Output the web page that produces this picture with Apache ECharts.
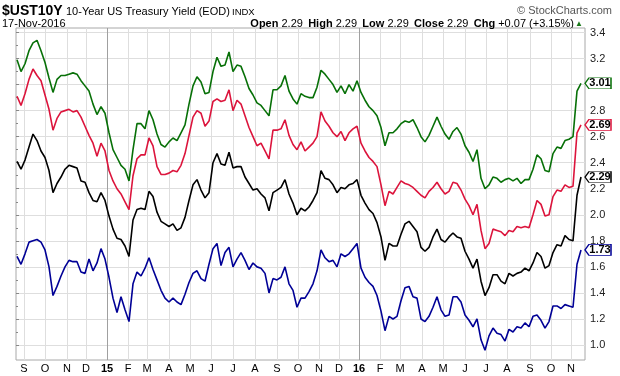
<!DOCTYPE html>
<html lang="en">
<head>
<meta charset="UTF-8">
<title>$UST10Y</title>
<script src="https://cdn.jsdelivr.net/npm/echarts@6/dist/echarts.min.js"></script>
<style>
    html, body { margin: 0; padding: 0; background: #fff; }
    #myChart { width: 620px; height: 376px; }
</style>
</head>
<body>
<div id="myChart"></div>
<script>
    // x = trading days from the left edge of the plot, one sample every 4 days
    var firstDay = 1, dayStep = 4;

    // month gridlines (trading day) and their labels
    var monthDays = [8, 29, 51, 70, 91, 112, 131, 153, 174, 195, 217, 239, 261, 282, 303, 323, 343, 364, 384, 406, 427, 449, 470, 491, 514, 535, 555];
    var monthLabels = ['S', 'O', 'N', 'D', '15', 'F', 'M', 'A', 'M', 'J', 'J', 'A', 'S', 'O', 'N', 'D', '16', 'F', 'M', 'A', 'M', 'J', 'J', 'A', 'S', 'O', 'N'];

    var green = [
        3.19, 3.10, 3.16, 3.26, 3.32, 3.34, 3.26, 3.17, 3.05, 2.94,
        3.04, 3.07, 3.07, 3.08, 3.09, 3.08, 3.03, 2.99, 2.95, 2.85,
        2.77, 2.83, 2.78, 2.63, 2.50, 2.44, 2.38, 2.35, 2.26, 2.50,
        2.70, 2.70, 2.66, 2.80, 2.73, 2.62, 2.54, 2.52, 2.56, 2.59,
        2.57, 2.63, 2.69, 2.85, 2.99, 3.06, 3.02, 2.93, 2.94, 3.10,
        3.21, 3.14, 3.15, 3.25, 3.10, 3.15, 3.14, 3.06, 2.97, 2.92,
        2.86, 2.84, 2.80, 2.76, 2.96, 2.96, 2.99, 3.07, 2.95, 2.89,
        2.85, 2.93, 2.91, 2.90, 2.90, 2.98, 3.11, 3.08, 3.04, 3.00,
        2.94, 2.99, 2.93, 3.00, 2.95, 3.03, 2.94, 2.88, 2.83, 2.80,
        2.76, 2.67, 2.53, 2.63, 2.63, 2.66, 2.70, 2.72, 2.71, 2.73,
        2.67, 2.60, 2.56, 2.61, 2.68, 2.75, 2.68, 2.62, 2.58, 2.64,
        2.67, 2.62, 2.53, 2.48, 2.41, 2.50, 2.28, 2.20, 2.23, 2.29,
        2.28, 2.25, 2.27, 2.28, 2.26, 2.28, 2.24, 2.27, 2.27, 2.35,
        2.46, 2.43, 2.34, 2.33, 2.47, 2.52, 2.51, 2.57, 2.58, 2.60,
        2.95, 3.01
    ];
    var red = [
        2.91, 2.84, 2.93, 3.04, 3.12, 3.07, 3.03, 2.92, 2.81, 2.65,
        2.74, 2.79, 2.80, 2.81, 2.79, 2.80, 2.75, 2.68, 2.61, 2.55,
        2.45, 2.55, 2.49, 2.34, 2.26, 2.20, 2.16, 2.10, 2.04, 2.30,
        2.43, 2.46, 2.46, 2.59, 2.53, 2.37, 2.31, 2.31, 2.32, 2.34,
        2.33, 2.38, 2.47, 2.61, 2.75, 2.80, 2.78, 2.68, 2.72, 2.87,
        2.89, 2.87, 2.88, 2.96, 2.80, 2.88, 2.85, 2.76, 2.67, 2.60,
        2.53, 2.55, 2.49, 2.43, 2.65, 2.65, 2.66, 2.73, 2.61, 2.54,
        2.50, 2.56, 2.49, 2.52, 2.55, 2.60, 2.79, 2.72, 2.68, 2.63,
        2.60, 2.64, 2.57, 2.63, 2.66, 2.68, 2.55, 2.49, 2.44, 2.41,
        2.37, 2.23, 2.07, 2.18, 2.16, 2.21, 2.26, 2.24, 2.23, 2.21,
        2.18, 2.15, 2.13, 2.18, 2.21, 2.25, 2.20, 2.16, 2.18, 2.25,
        2.24, 2.19, 2.12, 2.07, 2.00, 2.08, 1.88, 1.74, 1.78, 1.89,
        1.88, 1.87, 1.84, 1.88, 1.87, 1.91, 1.90, 1.91, 1.90, 2.00,
        2.11, 2.08, 1.99, 2.00, 2.14, 2.19, 2.18, 2.23, 2.21, 2.22,
        2.63, 2.69
    ];
    var black = [
        2.41, 2.35, 2.42, 2.52, 2.62, 2.57, 2.49, 2.44, 2.34, 2.17,
        2.24, 2.29, 2.35, 2.38, 2.37, 2.36, 2.26, 2.25, 2.17, 2.11,
        2.10, 2.17, 2.11, 1.99, 1.89, 1.82, 1.81, 1.76, 1.68, 1.96,
        2.04, 2.05, 2.04, 2.18, 2.14, 2.02, 1.95, 1.93, 1.91, 1.93,
        1.88, 1.90, 1.98, 2.11, 2.23, 2.27, 2.19, 2.13, 2.17, 2.40,
        2.47, 2.39, 2.38, 2.48, 2.36, 2.37, 2.37, 2.29, 2.24, 2.19,
        2.20, 2.16, 2.13, 2.03, 2.17, 2.19, 2.21, 2.27, 2.16, 2.09,
        2.00, 2.05, 2.03, 2.06, 2.11, 2.17, 2.34, 2.28, 2.27, 2.23,
        2.17, 2.21, 2.20, 2.23, 2.24, 2.27, 2.15, 2.09, 2.04, 2.01,
        1.94, 1.83, 1.65, 1.78, 1.76, 1.76, 1.85, 1.93, 1.95, 1.91,
        1.87, 1.75, 1.72, 1.75, 1.83, 1.89, 1.81, 1.79, 1.83, 1.86,
        1.83, 1.82, 1.72, 1.66, 1.59, 1.66, 1.49, 1.38, 1.44, 1.54,
        1.54, 1.49, 1.47, 1.55, 1.53, 1.55, 1.56, 1.59, 1.57, 1.63,
        1.71, 1.68, 1.59, 1.61, 1.71, 1.77, 1.76, 1.84, 1.81, 1.80,
        2.15, 2.29
    ];
    var blue = [
        1.68, 1.62, 1.70, 1.79, 1.80, 1.81, 1.79, 1.73, 1.60, 1.38,
        1.45, 1.53, 1.60, 1.65, 1.64, 1.64, 1.56, 1.55, 1.66, 1.57,
        1.63, 1.74, 1.66, 1.52, 1.36, 1.25, 1.37, 1.27, 1.18, 1.47,
        1.56, 1.53, 1.59, 1.67, 1.58, 1.50, 1.42, 1.36, 1.33, 1.36,
        1.33, 1.31, 1.39, 1.48, 1.55, 1.57, 1.51, 1.49, 1.62, 1.74,
        1.78, 1.61, 1.71, 1.75, 1.60, 1.66, 1.71, 1.65, 1.58, 1.63,
        1.60, 1.59, 1.55, 1.40, 1.51, 1.50, 1.52, 1.60, 1.47, 1.42,
        1.29, 1.36, 1.36, 1.41, 1.47, 1.57, 1.73, 1.67, 1.64, 1.65,
        1.60, 1.70, 1.68, 1.70, 1.74, 1.78, 1.59, 1.52, 1.48, 1.45,
        1.38, 1.26, 1.11, 1.22, 1.20, 1.22, 1.34, 1.44, 1.45, 1.37,
        1.36, 1.20, 1.18, 1.22, 1.29, 1.37, 1.27, 1.22, 1.23, 1.37,
        1.37, 1.33, 1.23, 1.19, 1.14, 1.20, 1.04, 0.96, 1.07, 1.13,
        1.09, 1.08, 1.03, 1.12, 1.10, 1.14, 1.13, 1.17, 1.14, 1.22,
        1.23, 1.19, 1.13, 1.18, 1.30, 1.30, 1.28, 1.31, 1.30, 1.29,
        1.62, 1.73
    ];

    var font = '"Liberation Sans", Arial, sans-serif';

    // plot frame and where 3.4 / 1.0 fall inside it
    var frame = {left: 16, top: 28, width: 569, height: 332};
    var y34 = 32.5, y10 = 345;
    var pxPerUnit = (y10 - y34) / 2.4;
    var yMax = 3.4 + (y34 - frame.top) / pxPerUnit;
    var yMin = 1.0 - (frame.top + frame.height - y10) / pxPerUnit;

    function toPairs(arr) {
        return arr.map(function (v, i) { return [firstDay + i * dayStep, v]; });
    }

    var splitColors = monthLabels.map(function (l) { return /^\d/.test(l) ? '#a0a0a0' : '#dedede'; });

    function lineSeries(name, arr, color) {
        var last = arr.length - 1;
        return {
            name: name,
            type: 'line',
            xAxisIndex: 0,
            yAxisIndex: 0,
            data: toPairs(arr),
            showSymbol: false,
            lineStyle: {color: color, width: 1.6},
            itemStyle: {color: color},
            markPoint: {
                symbol: 'path://M0,5.5L4,0L26,0L26,11L4,11Z',
                symbolSize: [26, 11],
                symbolKeepAspect: false,
                symbolOffset: [17, 0],
                itemStyle: {color: '#fff', borderColor: color, borderWidth: 1},
                label: {
                    show: true, position: 'inside', offset: [2, 0],
                    color: '#000', fontWeight: 'bold', fontSize: 11, fontFamily: font,
                    formatter: function (p) { return p.value.toFixed(2); }
                },
                data: [{coord: [firstDay + last * dayStep, arr[last]], value: arr[last]}]
            }
        };
    }

    var myChart = echarts.init(document.getElementById('myChart'));
    option = {
        animation: false,
        backgroundColor: '#fff',
        grid: [
            {left: frame.left, top: frame.top, width: frame.width, height: frame.height,
             show: true, borderColor: '#a8a8a8', borderWidth: 1},
            {left: frame.left, top: y34, width: frame.width, height: y10 - y34}
        ],
        xAxis: [
            {
                gridIndex: 0, type: 'value', min: 0, max: frame.width,
                axisLine: {show: false},
                axisTick: {show: false, customValues: monthDays},
                splitLine: {show: true, lineStyle: {color: splitColors, width: 1}},
                axisLabel: {
                    customValues: monthDays, margin: 3,
                    fontSize: 11, fontFamily: font, color: '#000',
                    formatter: function (v) {
                        var l = monthLabels[monthDays.indexOf(v)];
                        return /^\d/.test(l) ? '{yr|' + l + '}' : l;
                    },
                    rich: {yr: {fontWeight: 'bold', fontSize: 11, fontFamily: font, color: '#000'}}
                }
            },
            {gridIndex: 1, type: 'value', min: 0, max: frame.width, show: false}
        ],
        yAxis: [
            {gridIndex: 0, type: 'value', min: yMin, max: yMax, show: false},
            {
                gridIndex: 1, type: 'value', position: 'right', min: 1.0, max: 3.4, interval: 0.2,
                axisLine: {show: false},
                axisTick: {show: true, length: 3, lineStyle: {color: '#888'}},
                minorTick: {show: true, splitNumber: 2, length: 2, lineStyle: {color: '#888'}},
                splitLine: {show: true, lineStyle: {color: '#dedede', width: 1}},
                axisLabel: {
                    margin: 5, fontSize: 11, fontFamily: font, color: '#222',
                    formatter: function (v) { return v.toFixed(1); }
                }
            }
        ],
        series: [
            lineSeries('30Y', green, '#077007'),
            lineSeries('20Y', red, '#dc143c'),
            lineSeries('10Y', black, '#000000'),
            lineSeries('5Y', blue, '#000096')
        ],
        graphic: [
            {type: 'text', x: 2, y: 11, style: {text: '$UST10Y', font: 'bold 14px ' + font, fill: '#000', verticalAlign: 'middle'}},
            {type: 'text', x: 66, y: 11.5, style: {text: '10-Year US Treasury Yield (EOD)', font: '11px ' + font, fill: '#000', verticalAlign: 'middle'}},
            {type: 'text', x: 232, y: 12, style: {text: 'INDX', font: '9.5px ' + font, fill: '#000', verticalAlign: 'middle'}},
            {type: 'text', x: 612, y: 11, style: {text: '\u00a9 StockCharts.com', font: '11px ' + font, fill: '#555', align: 'right', verticalAlign: 'middle'}},
            {type: 'text', x: 2, y: 23.5, style: {text: '17-Nov-2016', font: '11px ' + font, fill: '#000', verticalAlign: 'middle'}},
            {type: 'text', x: 574, y: 23.5, style: {
                text: '{b|Open} 2.29 \u2009{b|High} 2.29 \u2009{b|Low} 2.29 \u2009{b|Close} 2.29 \u2009{b|Chg} +0.07 (+3.15%)',
                font: '11px ' + font, fill: '#000', align: 'right', verticalAlign: 'middle',
                rich: {b: {fontWeight: 'bold', fontSize: 11, fontFamily: font, fill: '#000'}}
            }},
            {type: 'text', x: 579, y: 23.5, style: {text: '\u25b2', font: '8px ' + font, fill: '#1a7a1a', align: 'center', verticalAlign: 'middle'}}
        ]
    };
    myChart.setOption(option);
</script>
</body>
</html>
